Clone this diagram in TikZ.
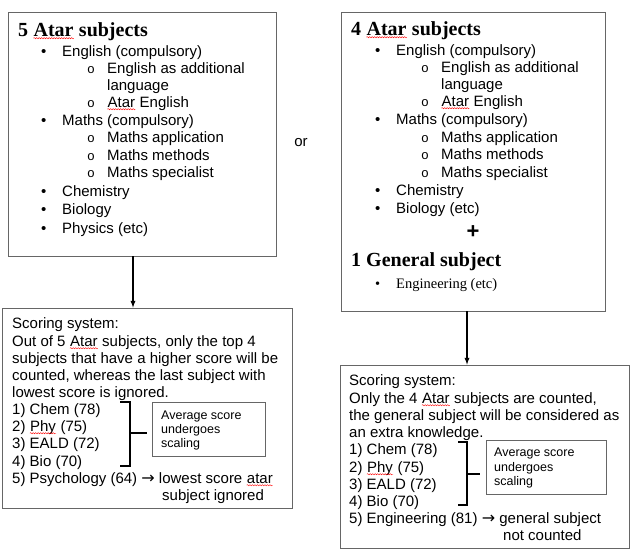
\documentclass[tikz,border=0pt]{standalone}
\usepackage{fontspec}
\setmainfont{Liberation Sans}
\newfontfamily\serifface{Liberation Serif}
\newfontfamily\monoface{Liberation Mono}
\newfontfamily\arrowface{DejaVu Sans}
\usetikzlibrary{arrows.meta}
\usetikzlibrary{decorations.pathmorphing}
\newcommand{\spell}[1]{\tikz[baseline=(w.base)]{\node[anchor=base west, inner sep=0pt] (w) {#1}; \draw[red, line width=0.4pt, decorate, decoration={snake, amplitude=0.6pt, segment length=2.5pt}] ([yshift=-2.2pt]w.base west) -- ([yshift=-2.2pt]w.base east);}}
\newcommand{\bul}{\makebox[21pt][l]{\textbullet}}
\newcommand{\sbul}{\makebox[21pt][l]{\hspace{1pt}{\monoface\fontsize{13}{15}\selectfont o}}}
\newcommand{\then}{{\arrowface\fontsize{16}{17}\selectfont →}}

\begin{document}
\begin{tikzpicture}[x=1pt, y=-1pt]
            \tikzset{box/.style={draw=black!60, line width=0.8pt, inner sep=0pt}}
            \tikzset{txt/.style={anchor=base west, inner sep=0pt, font=\fontsize{15}{17}\selectfont}}
            \tikzset{small/.style={anchor=base west, inner sep=0pt, font=\fontsize{12.5}{14}\selectfont}}
            \tikzset{head/.style={anchor=base west, inner sep=0pt, font=\serifface\bfseries\fontsize{20}{24}\selectfont}}
            \tikzset{flow/.style={black, line width=1.3pt, ->, >=latex}}
            \tikzset{brace/.style={black, line width=1.1pt}}
            \useasboundingbox (0, 0) rectangle (640, 557);
            \node[box, minimum width=268, minimum height=244] (five) at (142, 134) {};
            \node[box, minimum width=264, minimum height=299] (four) at (473, 161.5) {};
            \node[box, minimum width=290, minimum height=200] (scorefive) at (147, 408) {};
            \node[box, minimum width=289, minimum height=183] (scorefour) at (484.5, 456.5) {};
            \node[box, minimum width=113, minimum height=54] (avgfive) at (208.5, 429) {};
            \node[box, minimum width=120, minimum height=54] (avgfour) at (546, 467) {};
            \coordinate (leftdrop) at (133, 0);
            \coordinate (rightdrop) at (467, 0);
            \draw[flow] (five.south -| leftdrop) -- (scorefive.north -| leftdrop);
            \draw[flow] (four.south -| rightdrop) -- (scorefour.north -| rightdrop);
            \node[head] (fivetitle) at (18, 36) {5 \spell{Atar} subjects};
            \node[txt] (fiveeng) at (41, 56) {\bul English (compulsory)};
            \node[txt] (fiveeald) at (86, 73) {\sbul English as additional};
            \node[txt] (fivelang) at (107, 90) {language};
            \node[txt] (fiveatar) at (86, 107) {\sbul \spell{Atar} English};
            \node[txt] (fivemath) at (41, 125) {\bul Maths (compulsory)};
            \node[txt] (fiveapp) at (86, 142) {\sbul Maths application};
            \node[txt] (fivemeth) at (86, 160) {\sbul Maths methods};
            \node[txt] (fivespec) at (86, 177) {\sbul Maths specialist};
            \node[txt] (fivechem) at (41, 196) {\bul Chemistry};
            \node[txt] (fivebio) at (41, 214) {\bul Biology};
            \node[txt] (fivephys) at (41, 233) {\bul Physics (etc)};
            \node[txt, anchor=base] (or) at (301, 146) {or};
            \node[head] (fourtitle) at (351, 35) {4 \spell{Atar} subjects};
            \node[txt] (foureng) at (375, 55) {\bul English (compulsory)};
            \node[txt] (foureald) at (420, 72) {\sbul English as additional};
            \node[txt] (fourlang) at (441, 89) {language};
            \node[txt] (fouratar) at (420, 106) {\sbul \spell{Atar} English};
            \node[txt] (fourmath) at (375, 124) {\bul Maths (compulsory)};
            \node[txt] (fourapp) at (420, 142) {\sbul Maths application};
            \node[txt] (fourmeth) at (420, 159) {\sbul Maths methods};
            \node[txt] (fourspec) at (420, 177) {\sbul Maths specialist};
            \node[txt] (fourchem) at (375, 195) {\bul Chemistry};
            \node[txt] (fourbio) at (375, 213) {\bul Biology (etc)};
            \node[anchor=center, inner sep=0pt, font=\bfseries\fontsize{22}{24}\selectfont] (plus) at (473, 232) {+};
            \node[head] (gentitle) at (351, 266) {1 General subject};
            \node[txt, font=\serifface\fontsize{14.5}{17}\selectfont] (geneng) at (375, 288) {\bul Engineering (etc)};
            \node[txt] (s5a) at (12, 328) {Scoring system:};
            \node[txt] (s5b) at (12, 346) {Out of 5 \spell{Atar} subjects, only the top 4};
            \node[txt] (s5c) at (12, 363) {subjects that have a higher score will be};
            \node[txt] (s5d) at (12, 380) {counted, whereas the last subject with};
            \node[txt] (s5e) at (12, 397) {lowest score is ignored.};
            \node[txt] (s5f) at (12, 414) {1) Chem (78)};
            \node[txt] (s5g) at (12, 431) {2) \spell{Phy} (75)};
            \node[txt] (s5h) at (12, 448) {3) EALD (72)};
            \node[txt] (s5i) at (12, 466) {4) Bio (70)};
            \node[txt] (s5j) at (12, 483) {5) Psychology (64) \then{} lowest score \spell{atar}};
            \node[txt] (s5k) at (162, 500) {subject ignored};
            \node[small] (a5a) at (161, 419.5) {Average score};
            \node[small] (a5b) at (161, 433.5) {undergoes};
            \node[small] (a5c) at (161, 447.5) {scaling};
            \draw[brace] (120, 402) -- (130, 402) -- (130, 466) -- (120, 466);
            \draw[brace] (130, 433) -- (147, 433);
            \node[txt] (s4a) at (349, 385) {Scoring system:};
            \node[txt] (s4b) at (349, 403) {Only the 4 \spell{Atar} subjects are counted,};
            \node[txt] (s4c) at (349, 420) {the general subject will be considered as};
            \node[txt] (s4d) at (349, 437) {an extra knowledge.};
            \node[txt] (s4e) at (349, 454) {1) Chem (78)};
            \node[txt] (s4f) at (349, 472) {2) \spell{Phy} (75)};
            \node[txt] (s4g) at (349, 489) {3) EALD (72)};
            \node[txt] (s4h) at (349, 506) {4) Bio (70)};
            \node[txt] (s4i) at (349, 523) {5) Engineering (81) \then{} general subject};
            \node[txt] (s4j) at (503, 540) {not counted};
            \node[small] (a4a) at (494, 456.5) {Average score};
            \node[small] (a4b) at (494, 471.5) {undergoes};
            \node[small] (a4c) at (494, 485.5) {scaling};
            \draw[brace] (458, 442) -- (467, 442) -- (467, 505) -- (458, 505);
            \draw[brace] (467, 474) -- (480, 474);
        \end{tikzpicture}
\end{document}
